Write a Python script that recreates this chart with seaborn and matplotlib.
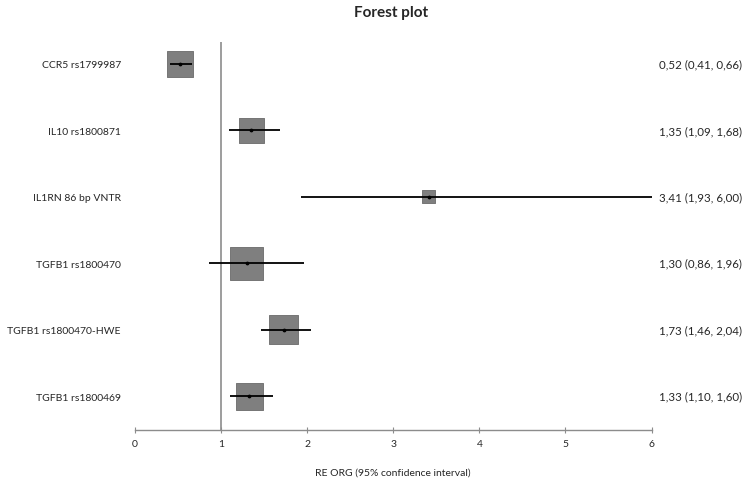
import numpy as np
import pandas as pd
import matplotlib
matplotlib.use("Agg")
import matplotlib.pyplot as plt
import seaborn as sns

# --- data ---
studies = ["CCR5 rs1799987", "IL10 rs1800871", "IL1RN 86 bp VNTR",
           "TGFB1 rs1800470", "TGFB1 rs1800470-HWE", "TGFB1 rs1800469"]
or_est = [0.52, 1.35, 3.41, 1.30, 1.73, 1.33]
ci_low = [0.41, 1.09, 1.93, 0.86, 1.46, 1.10]
ci_high = [0.66, 1.68, 6.00, 1.96, 2.04, 1.60]
# relative study weights (drive the square size)
weights = [26, 25, 13, 33, 29, 27]
summary_labels = ["0,52 (0,41, 0,66)", "1,35 (1,09, 1,68)", "3,41 (1,93, 6,00)",
                  "1,30 (0,86, 1,96)", "1,73 (1,46, 2,04)", "1,33 (1,10, 1,60)"]
xticks = [0, 1, 2, 3, 4, 5, 6]

df = pd.DataFrame({"study": studies, "OR": or_est, "lo": ci_low, "hi": ci_high,
                   "w": weights, "row": np.arange(len(studies))})

sns.set_style("white")
plt.rcParams['font.family'] = ['Lato', 'DejaVu Sans']

fig = plt.figure(figsize=(7.49, 4.85), dpi=100)
ax = fig.add_axes([0.180, 0.1113, 0.690, 0.800])

# squares: side in points = weight px * 0.72
px2pt = 72 / 100
sizes = {w: (w * px2pt) ** 2 for w in df["w"]}
sns.scatterplot(data=df, x="OR", y="row", size="w", sizes=sizes, marker="s",
                color="#7f7f7f", edgecolor="#6a6a6a", linewidth=0.6,
                legend=False, ax=ax, zorder=2)

# confidence intervals
ax.hlines(df["row"], df["lo"], df["hi"], color="black", lw=1.3, zorder=3)
ax.scatter(df["OR"], df["row"], s=3, color="black", zorder=4)

# reference line at 1
ax.axvline(1, color="#8c8c8c", lw=1.2, zorder=1)

ax.set_xlim(0, 6)
ax.set_ylim(5.51, -0.33)
ax.set_xticks(xticks)
ax.set_xticklabels([str(t) for t in xticks], fontsize=7.5)
ax.set_yticks(df["row"])
ax.set_yticklabels(studies, fontsize=7.5)
ax.tick_params(axis="y", left=False, length=0, pad=10)
ax.tick_params(axis="x", bottom=True, direction="inout", length=5, width=0.8,
               color="#8c8c8c", pad=4)

for s in ["top", "right", "left"]:
    ax.spines[s].set_visible(False)
ax.spines["bottom"].set_color("#8c8c8c")
ax.spines["bottom"].set_linewidth(1.0)

for r, lab in zip(df["row"], summary_labels):
    ax.text(6.09, r, lab, ha="left", va="center", fontsize=8.3, clip_on=False)

ax.set_xlabel("RE ORG (95% confidence interval)", fontsize=7.5, labelpad=14)
ax.set_ylabel("")
fig.text(0.522, 0.974, "Forest plot", ha="center", va="center",
         fontsize=11, fontweight="bold")

fig.savefig("out.png", dpi=100)
